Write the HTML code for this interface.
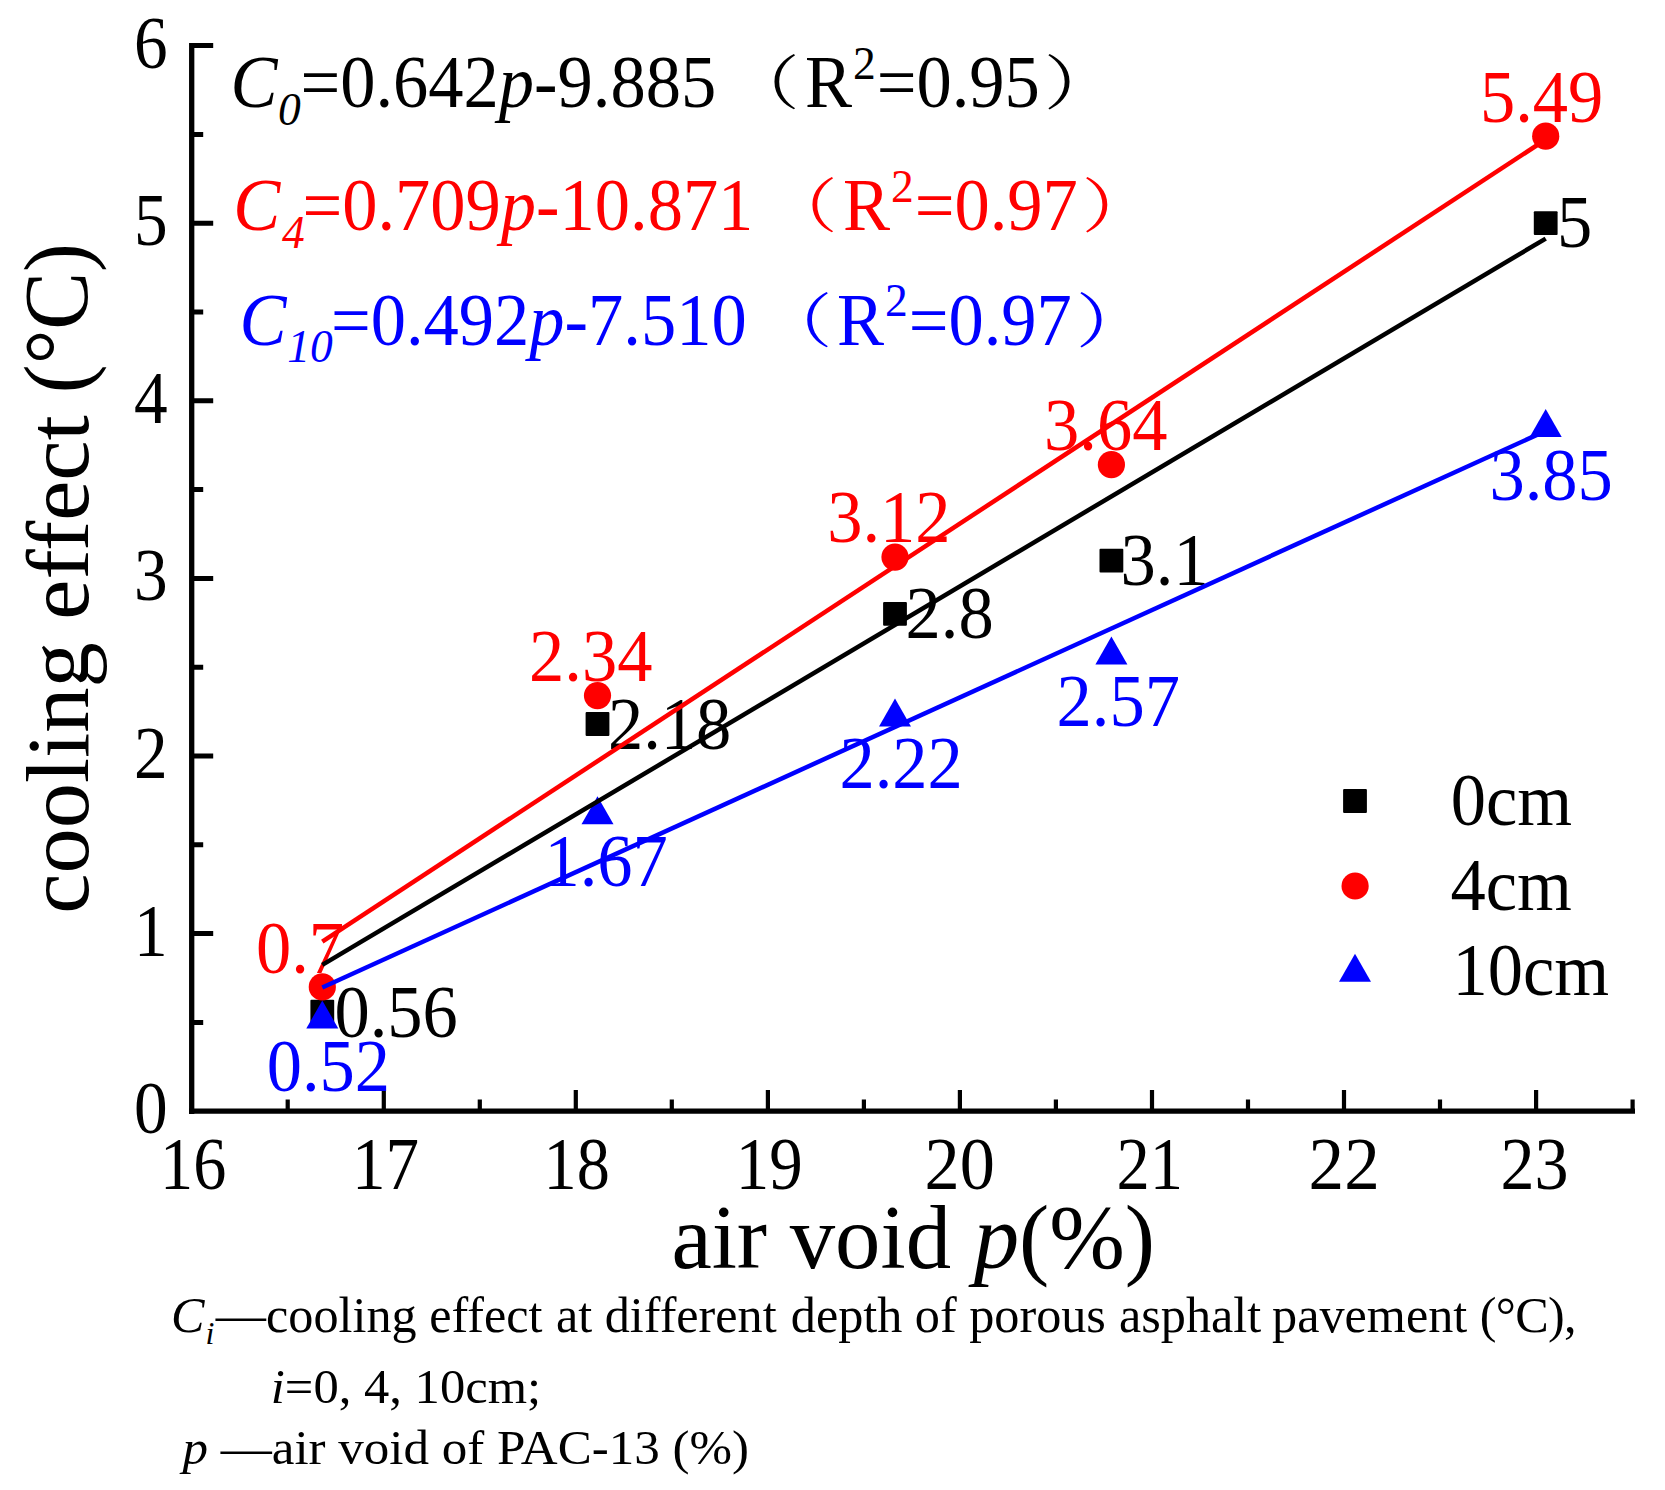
<!DOCTYPE html>
<html lang="en"><head><meta charset="utf-8"><title>cooling effect vs air void</title>
<style>html,body{margin:0;padding:0;background:#fff}body{width:1665px;height:1490px;overflow:hidden}svg{display:block}text{font-family:"Liberation Serif","Noto Serif CJK SC",serif;}.i{font-style:italic}</style></head><body>
<svg width="1665" height="1490" viewBox="0 0 1665 1490">
<rect width="1665" height="1490" fill="#fff"/>
<g stroke="#000" fill="none" stroke-linecap="butt">
<path stroke-width="5.3" d="M191.7 43.1 V1113.9"/>
<path stroke-width="5.3" d="M189.0 1111.2 H1635"/>
<path stroke-width="5" d="M191.7 1022.4h11.5M191.7 933.6h21.5M191.7 844.8h11.5M191.7 756.0h21.5M191.7 667.2h11.5M191.7 578.4h21.5M191.7 489.6h11.5M191.7 400.8h21.5M191.7 312.0h11.5M191.7 223.2h21.5M191.7 134.4h11.5M191.7 45.6h21.5"/>
<path stroke-width="4.2" d="M287.7 1111.2v-11.6M383.8 1111.2v-21.2M479.8 1111.2v-11.6M575.8 1111.2v-21.2M671.8 1111.2v-11.6M767.9 1111.2v-21.2M863.9 1111.2v-11.6M959.9 1111.2v-21.2M1055.9 1111.2v-11.6M1152.0 1111.2v-21.2M1248.0 1111.2v-11.6M1344.0 1111.2v-21.2M1440.0 1111.2v-11.6M1536.1 1111.2v-21.2M1632.6 1111.2v-11.6"/>
</g>
<text transform="translate(167.6,1133.1) scale(0.955,1.04)" font-size="70.5" text-anchor="end">0</text>
<text transform="translate(167.6,955.5) scale(0.955,1.04)" font-size="70.5" text-anchor="end">1</text>
<text transform="translate(167.6,777.9) scale(0.955,1.04)" font-size="70.5" text-anchor="end">2</text>
<text transform="translate(167.6,600.3) scale(0.955,1.04)" font-size="70.5" text-anchor="end">3</text>
<text transform="translate(167.6,422.7) scale(0.955,1.04)" font-size="70.5" text-anchor="end">4</text>
<text transform="translate(167.6,245.1) scale(0.955,1.04)" font-size="70.5" text-anchor="end">5</text>
<text transform="translate(167.6,67.5) scale(0.955,1.04)" font-size="70.5" text-anchor="end">6</text>
<text transform="translate(160.0,1189.3) scale(0.94,1.04)" font-size="70.5">16</text>
<text transform="translate(351.9,1189.3) scale(0.9524,1.04)" font-size="70.5">17</text>
<text transform="translate(543.5,1189.3) scale(0.94,1.04)" font-size="70.5">18</text>
<text transform="translate(735.7,1189.3) scale(0.9492,1.04)" font-size="70.5">19</text>
<text transform="translate(924.5,1189.3) scale(0.997,1.04)" font-size="70.5">20</text>
<text transform="translate(1116.5,1189.3) scale(0.9437,1.04)" font-size="70.5">21</text>
<text transform="translate(1308.6,1189.3) scale(1.009,1.04)" font-size="70.5">22</text>
<text transform="translate(1500.4,1189.3) scale(0.9652,1.04)" font-size="70.5">23</text>
<rect x="310.4" y="999.8" width="23.8" height="23.8" rx="1" fill="#000"/>
<rect x="585.6" y="712.1" width="23.8" height="23.8" rx="1" fill="#000"/>
<rect x="883.1" y="602.0" width="23.8" height="23.8" rx="1" fill="#000"/>
<rect x="1099.5" y="548.7" width="23.8" height="23.8" rx="1" fill="#000"/>
<rect x="1533.8" y="211.3" width="23.8" height="23.8" rx="1" fill="#000"/>
<circle cx="322.3" cy="986.9" r="13.6" fill="#f00"/>
<circle cx="597.5" cy="695.6" r="13.6" fill="#f00"/>
<circle cx="895.0" cy="557.1" r="13.6" fill="#f00"/>
<circle cx="1111.4" cy="464.7" r="13.6" fill="#f00"/>
<circle cx="1545.7" cy="136.2" r="13.6" fill="#f00"/>
<path d="M322.3 1000.5 L338.3 1028.5 L306.3 1028.5 Z" fill="#00f"/>
<path d="M597.5 796.3 L613.5 824.3 L581.5 824.3 Z" fill="#00f"/>
<path d="M895.0 698.6 L911.0 726.6 L879.0 726.6 Z" fill="#00f"/>
<path d="M1111.4 636.5 L1127.4 664.5 L1095.4 664.5 Z" fill="#00f"/>
<path d="M1545.7 409.1 L1561.7 437.1 L1529.7 437.1 Z" fill="#00f"/>
<text transform="translate(334.4,1037.2) scale(1,1.04)" font-size="70.5" fill="#000">0.56</text>
<text transform="translate(608.0,748.6) scale(1,1.04)" font-size="70.5" fill="#000">2.18</text>
<text transform="translate(905.6,638.3) scale(1,1.04)" font-size="70.5" fill="#000">2.8</text>
<text transform="translate(1120.6,584.8) scale(1,1.04)" font-size="70.5" fill="#000">3.1</text>
<text transform="translate(1556.9,246.7) scale(1,1.04)" font-size="70.5" fill="#000">5</text>
<text transform="translate(255.9,972.5) scale(1,1.04)" font-size="70.5" fill="#f00">0.7</text>
<text transform="translate(529.1,681.1) scale(1,1.04)" font-size="70.5" fill="#f00">2.34</text>
<text transform="translate(827.2,542.2) scale(1,1.04)" font-size="70.5" fill="#f00">3.12</text>
<text transform="translate(1044.1,449.7) scale(1,1.04)" font-size="70.5" fill="#f00">3.64</text>
<text transform="translate(1480.0,121.7) scale(1,1.04)" font-size="70.5" fill="#f00">5.49</text>
<text transform="translate(266.7,1091.4) scale(1,1.04)" font-size="70.5" fill="#00f">0.52</text>
<text transform="translate(544.4,885.9) scale(1,1.04)" font-size="70.5" fill="#00f">1.67</text>
<text transform="translate(839.4,787.7) scale(1,1.04)" font-size="70.5" fill="#00f">2.22</text>
<text transform="translate(1056.6,726.0) scale(1,1.04)" font-size="70.5" fill="#00f">2.57</text>
<text transform="translate(1489.5,499.8) scale(1,1.04)" font-size="70.5" fill="#00f">3.85</text>
<text transform="translate(1450.7,825.3) scale(1,1.04)" font-size="70.5" fill="#000">0cm</text>
<text transform="translate(1450.4,909.8) scale(1,1.04)" font-size="70.5" fill="#000">4cm</text>
<text transform="translate(1452.5,995.0) scale(1,1.04)" font-size="70.5" fill="#000">10cm</text>
<rect x="1343.1" y="789.1" width="23.8" height="23.8" rx="1" fill="#000"/>
<circle cx="1355.1" cy="886.0" r="13.6" fill="#f00"/>
<path d="M1355.0 953.7 L1371.0 981.7 L1339.0 981.7 Z" fill="#00f"/>
<text transform="translate(0.0,107.4) scale(1,1.04)" font-size="70.5" fill="#000"><tspan class="i" x="230.5">C</tspan><tspan class="i" font-size="45.5" x="278" dy="17.2">0</tspan><tspan x="300.5" dy="-17.2">=0.642</tspan><tspan class="i">p</tspan>-9.885<tspan x="805">R</tspan><tspan font-size="45.5" dy="-27.5" dx="1">2</tspan><tspan dy="27.5" dx="1">=0.95</tspan></text>
<text transform="translate(727.5,104.2) scale(0.7214,0.5914)" font-size="100" fill="#000">（</text>
<text transform="translate(1043.7,104.2) scale(0.7393,0.5914)" font-size="100" fill="#000">）</text>
<text transform="translate(0.0,230.4) scale(1,1.04)" font-size="70.5" fill="#f00"><tspan class="i" x="233.3">C</tspan><tspan class="i" font-size="45.5" x="282" dy="17.2">4</tspan><tspan x="302.5" dy="-17.2">=0.709</tspan><tspan class="i">p</tspan>-10.871<tspan x="843">R</tspan><tspan font-size="45.5" dy="-27.5" dx="1">2</tspan><tspan dy="27.5" dx="1">=0.97</tspan></text>
<text transform="translate(765.4,227.2) scale(0.7214,0.5914)" font-size="100" fill="#f00">（</text>
<text transform="translate(1081.5,227.2) scale(0.7393,0.5914)" font-size="100" fill="#f00">）</text>
<text transform="translate(0.0,344.8) scale(1,1.04)" font-size="70.5" fill="#00f"><tspan class="i" x="239.4">C</tspan><tspan class="i" font-size="45.5" x="287.3" dy="16.6">10</tspan><tspan x="331" dy="-16.6">=0.492</tspan><tspan class="i">p</tspan>-7.510<tspan x="837">R</tspan><tspan font-size="45.5" dy="-27.5" dx="1">2</tspan><tspan dy="27.5" dx="1">=0.97</tspan></text>
<text transform="translate(760.3,341.6) scale(0.7214,0.5914)" font-size="100" fill="#00f">（</text>
<text transform="translate(1075.7,341.6) scale(0.7393,0.5914)" font-size="100" fill="#00f">）</text>
<text transform="translate(671.4,1267.5) scale(0.9072,0.92)" font-size="100">air void <tspan class="i">p</tspan>(%)</text>
<text transform="translate(87.5,913.8) rotate(-90) scale(0.9053,0.8967)" font-size="100">cooling effect</text>
<text transform="translate(87.1,393.2) rotate(-90) scale(0.8661,0.9)" font-size="100">(°C)</text>
<text transform="translate(171.0,1331.6) scale(1,1.016)" font-size="50.2"><tspan class="i">C</tspan><tspan class="i" font-size="32" dy="12.5" dx="1">i</tspan><tspan dy="-12.5" dx="1.5">—cooling effect</tspan><tspan dx="1"> at different</tspan><tspan dx="1.6"> depth of porous</tspan><tspan dx="0.6"> asphalt</tspan><tspan dx="-1.6"> pavement </tspan><tspan letter-spacing="-0.7">(°C),</tspan></text>
<text transform="translate(270.8,1403.2) scale(1.008,0.976)" font-size="50.2"><tspan class="i">i</tspan>=0, 4, 10cm;</text>
<text transform="translate(182.4,1464.4) scale(1.017,0.98)" font-size="50.2"><tspan class="i">p</tspan> —air void of PAC-13 (%)</text>
<path d="M322.3 964.9 L1545.7 238.6" stroke="#000" stroke-width="4.5" fill="none"/>
<path d="M322.3 941.6 L1545.7 139.5" stroke="#f00" stroke-width="4.5" fill="none"/>
<path d="M322.3 987.5 L1545.7 430.9" stroke="#00f" stroke-width="4.5" fill="none"/>
</svg></body></html>
